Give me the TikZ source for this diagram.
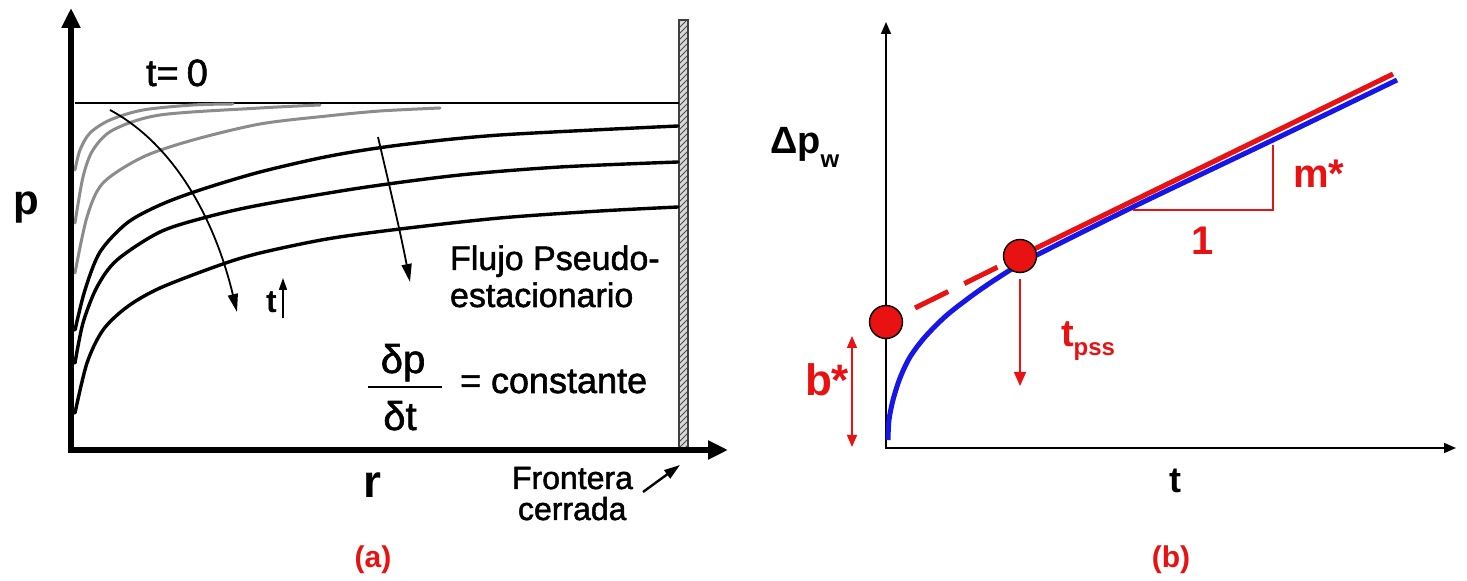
\documentclass[tikz,border=0pt]{standalone}
\usepackage{fontspec}
\setmainfont{Liberation Sans}
\newfontfamily\cfont[FakeBold=1.5]{Liberation Sans}
\usetikzlibrary{arrows.meta,patterns}
\definecolor{myred}{RGB}{232,18,18}
\definecolor{myblue}{RGB}{22,22,232}
\definecolor{curvegray}{RGB}{140,140,140}
\begin{document}
\begin{tikzpicture}[x=0.5pt,y=-0.5pt,
  txt/.style={inner sep=0pt, outer sep=0pt},
  axisL/.style={line width=3pt, -{Triangle[length=10pt,width=9pt]}},
  blk/.style={line width=1.7pt, line cap=round},
  gry/.style={line width=1.5pt, curvegray, line cap=round},
  tarrow/.style={line width=0.9pt, -{Triangle[length=9pt,width=5pt]}},
  axisR/.style={line width=0.8pt, -{Triangle[length=6pt,width=5pt]}},
  redthin/.style={myred, line width=0.7pt},
  dot/.style={circle, fill=myred, draw=black, line width=0.7pt, minimum size=16.5pt, inner sep=0pt},
  lf/.style={txt, font=\cfont\fontsize{17}{20}\selectfont},
  rl/.style={txt, text=myred, font=\fontsize{20}{24}\selectfont\bfseries}]
\useasboundingbox (0,0) rectangle (1467,581);
\fill[white] (0,0) rectangle (1467,581);

% ---------------- panel (a) ----------------
\fill[gray!30] (679,20) rectangle (688,450);
\draw[draw=gray!50!black, line width=0.6pt, pattern=north east lines, pattern color=gray!60!black]
  (679,20) rectangle (688,450);
\draw[line width=0.7pt] (75,103) -- (679,103);

% gray curves (early times)
\draw[gry] plot[smooth] coordinates {(75,170) (80,150) (90,133) (110,120) (143,110) (193,105) (233,104)};
\draw[gry] plot[smooth] coordinates {(75,223) (83,177) (93,150) (113,130) (160,115) (260,108) (320,105)};
\draw[gry] plot[smooth] coordinates {(75,273) (87,217) (103,183) (143,157) (193,140) (260,124) (327,116) (380,111) (440,108)};

% black curves (pseudo-steady state)
\draw[blk] plot[smooth] coordinates {(75,330) (85,290) (100,252) (127,223) (160,205) (200,190) (260,172) (330,156) (400,145) (500,135) (678,126)};
\draw[blk] plot[smooth] coordinates {(75,363) (83,323) (97,287) (117,260) (160,232) (207,217) (260,205) (360,188) (460,175) (560,167) (678,162)};
\draw[blk] plot[smooth] coordinates {(75,413) (87,363) (103,330) (127,307) (160,288) (220,265) (260,253) (327,239) (400,229) (500,218) (600,211) (678,207)};

% axes
\draw[axisL] (71,452) -- (71,8);
\draw[axisL] (68,450) -- (728,450);

% time arrows
\draw[tarrow] (110,110) .. controls (175,145) and (215,220) .. (237,312);
\draw[tarrow] (378,137) .. controls (388,180) and (400,230) .. (410,282);

% labels
\node[txt, anchor=base west, font=\cfont\fontsize{19}{22}\selectfont] (t0) at (146,86) {t=\hspace{4pt}0};
\node[txt, anchor=base west, font=\fontsize{21}{24}\selectfont\bfseries] (plab) at (13,215) {p};
\node[txt, anchor=base west, font=\fontsize{23}{26}\selectfont\bfseries] (rlab) at (363,498) {r};
\node[txt, anchor=base west, font=\fontsize{16}{19}\selectfont\bfseries] (tup) at (266,313) {t};
\coordinate (tupA) at (283,318);
\coordinate (tupB) at (283,278);
\draw[line width=0.8pt, -{Triangle[length=6pt,width=4pt]}] (tupA) -- (tupB);

\node[lf, anchor=base west] (flujo) at (450,270) {Flujo Pseudo-};
\node[lf, anchor=base west] (estac) at (450,307) {estacionario};
\node[txt, anchor=base, font=\cfont\fontsize{20}{23}\selectfont] (dp) at (403,373) {δp};
\node[txt, anchor=base, font=\cfont\fontsize{20}{23}\selectfont] (dt) at (400,430) {δt};
\draw[line width=1.1pt] (368,387) -- (442,387);
\node[txt, anchor=base west, font=\cfont\fontsize{18}{21}\selectfont] (const) at (460,393) {= constante};

\node[txt, anchor=base west, font=\cfont\fontsize{16}{19}\selectfont] (front) at (512,489) {Frontera};
\node[txt, anchor=base west, font=\cfont\fontsize{16}{19}\selectfont] (cerr) at (518,520) {cerrada};
\coordinate (wallpt) at (680,465);
\draw[line width=1.2pt, -{Triangle[length=8pt,width=5pt]}] (643,492) -- (wallpt);

% ---------------- panel (b) ----------------
\draw[axisR] (886,449) -- (886,22);
\draw[axisR] (885,448) -- (1456,448);

% blue response
\draw[myblue, line width=2.5pt] plot[smooth] coordinates {(888,440) (889,420) (893,400) (900,378) (910,357) (925,337) (947,315) (977,292) (1007,272) (1033,257) (1133,207) (1273,140) (1397,80)};

% red straight line
\coordinate (k1) at (886,322);
\coordinate (k2) at (1020,256);
\coordinate (dstart) at (915,308);
\coordinate (lend) at (1393,74);
\draw[myred, line width=2.5pt, dash pattern=on 18.5pt off 9pt] (dstart) -- (k2);
\draw[myred, line width=2.5pt] (k2) -- (lend);

% slope triangle
\draw[redthin] (1133,210) -- (1273,210) -- (1273,145);
\node[rl, anchor=base] (one) at (1203,255) {1};
\node[rl, anchor=base west] (mstar) at (1293,188) {m*};

% points
\node[dot] (c1) at (k1) {};
\node[dot] (c2) at (k2) {};

% t_pss arrow
\coordinate (tpssend) at (1020,386);
\draw[redthin, -{Triangle[length=7pt,width=6pt]}, shorten <=3pt] (c2.south) -- (tpssend);
\node[txt, anchor=base west, text=myred, font=\fontsize{19}{22}\selectfont\bfseries] (tpss) at (1061,347) {t\raisebox{-4.5pt}{\fontsize{12}{14}\selectfont pss}};

% b* arrow
\coordinate (bA) at (852,336);
\coordinate (bB) at (852,447);
\draw[redthin, {Triangle[length=6pt,width=5pt]}-{Triangle[length=6pt,width=5pt]}] (bA) -- (bB);
\node[rl, anchor=base west, font=\fontsize{22}{26}\selectfont\bfseries] (bstar) at (805,396) {b*};

% axis labels
\node[txt, anchor=base west, font=\fontsize{19}{22}\selectfont\bfseries] (dpw) at (770,154) {Δp\raisebox{-7pt}{\fontsize{12}{14}\selectfont w}};
\node[txt, anchor=base west, font=\fontsize{18}{21}\selectfont\bfseries] (tlab) at (1169,493) {t};

% captions
\node[txt, text=myred, font=\fontsize{15}{18}\selectfont\bfseries] (capa) at (373,560) {(a)};
\node[txt, text=myred, font=\fontsize{15}{18}\selectfont\bfseries] (capb) at (1171,560) {(b)};
\end{tikzpicture}
\end{document}
